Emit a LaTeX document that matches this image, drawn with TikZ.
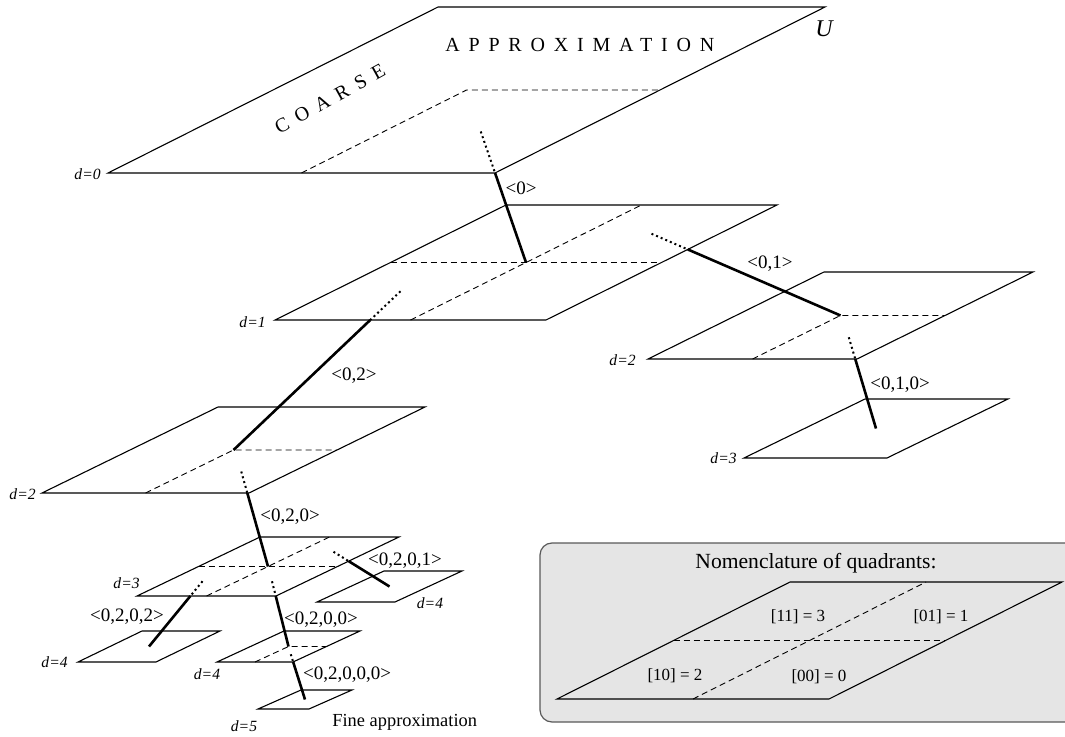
\documentclass[tikz,border=0pt]{standalone}
\usepackage{fontspec}
\setmainfont{Liberation Serif}
\usetikzlibrary{intersections}

\tikzset{
  planeline/.style={line width=0.55pt, line join=miter},
  midline/.style={line width=0.45pt, dash pattern=on 3pt off 2pt},
  hiddenpart/.style={line width=1pt, dash pattern=on 1pt off 1.5pt},
  visiblepart/.style={line width=1.3pt},
  lbl/.style={inner sep=0pt, font=\fontsize{9.5}{11}\selectfont},
  dlbl/.style={inner sep=0pt, font=\fontsize{7.8}{9}\selectfont\itshape},
  qlbl/.style={inner sep=0pt, font=\fontsize{8.5}{10}\selectfont},
  spaced/.style={inner sep=0pt, font=\fontsize{10}{12}\selectfont\addfontfeatures{LetterSpace=44}},
}

% name, x, y, width, height, offset
\newcommand{\defplane}[6]{%
  \coordinate (#1-bl) at (#2,#3);
  \coordinate (#1-br) at ({#2+#4},#3);
  \coordinate (#1-tl) at ({#2+#6},{#3-#5});
  \coordinate (#1-tr) at ({#2+#6+#4},{#3-#5});
  \coordinate (#1-c)  at ({#2+(#6+#4)/2},{#3-#5/2});
  \coordinate (#1-bm) at ({#2+#4/2},#3);
  \coordinate (#1-tm) at ({#2+#6+#4/2},{#3-#5});
  \coordinate (#1-lm) at ({#2+#6/2},{#3-#5/2});
  \coordinate (#1-rm) at ({#2+#4+#6/2},{#3-#5/2});
  \coordinate (#1-q0) at ({#2+0.75*#4+0.25*#6},{#3-0.25*#5});
  \coordinate (#1-q1) at ({#2+0.75*#4+0.75*#6},{#3-0.75*#5});
  \coordinate (#1-q2) at ({#2+0.25*#4+0.25*#6},{#3-0.25*#5});
  \coordinate (#1-q3) at ({#2+0.25*#4+0.75*#6},{#3-0.75*#5});
  \draw[planeline,name path=#1-path] (#1-bl) -- (#1-br) -- (#1-tr) -- (#1-tl) -- cycle;
}
\newcommand{\halfcross}[1]{\draw[midline] (#1-bm) -- (#1-c) -- (#1-rm);}
\newcommand{\fullcross}[1]{\draw[midline] (#1-bm) -- (#1-tm); \draw[midline] (#1-lm) -- (#1-rm);}
% parent, quadrant, child, link name
\newcommand{\qlink}[4]{%
  \path[name path=#4-ln] (#1-#2) -- (#3-c);
  \path[name intersections={of=#1-path and #4-ln, by=#4-x}];
  \draw[hiddenpart] (#1-#2) -- (#4-x);
  \draw[visiblepart] (#4-x) -- (#3-c);
}

\begin{document}
\begin{tikzpicture}[x=0.5pt,y=-0.5pt]
\useasboundingbox (0,0) rectangle (1065,737);
\clip (0,0) rectangle (1065,737);

% legend box
\draw[fill=black!10, draw=black!65, line width=0.6pt, rounded corners=6pt] (540,543) rectangle (1080,722);
\node[inner sep=0pt, font=\fontsize{10.8}{13}\selectfont] (ntitle) at (816,563) {Nomenclature of quadrants:};
\defplane{pn}{557}{699}{272}{117}{233}
\fullcross{pn}
\node[qlbl] (n3) at (798,617) {[11] = 3};
\node[qlbl] (n1) at (941,617) {[01] = 1};
\node[qlbl] (n2) at (675,676) {[10] = 2};
\node[qlbl] (n0) at (819,677) {[00] = 0};

% planes
\defplane{p0}{108}{173}{387}{166}{330}
\halfcross{p0}
\defplane{p1}{275}{320}{271}{115}{231}
\fullcross{p1}
\defplane{p2r}{648}{359}{209}{87}{176}
\halfcross{p2r}
\defplane{p3r}{744}{458}{143}{59}{121}
\defplane{p2l}{42}{493}{207}{86}{176}
\halfcross{p2l}
\defplane{p3l}{137}{596}{139}{59}{123}
\fullcross{p3l}
\defplane{p4l}{78}{662}{78}{31}{64}
\defplane{p4m}{217}{662}{76}{31}{67}
\halfcross{p4m}
\defplane{p4r}{317}{602}{78}{31}{67}
\defplane{p5}{258}{709}{51}{19}{43}

% links
\qlink{p0}{q0}{p1}{l0}
\qlink{p1}{q1}{p2r}{l01}
\qlink{p1}{q2}{p2l}{l02}
\qlink{p2r}{q0}{p3r}{l010}
\qlink{p2l}{q0}{p3l}{l020}
\qlink{p3l}{q1}{p4r}{l0201}
\qlink{p3l}{q2}{p4l}{l0202}
\qlink{p3l}{q0}{p4m}{l0200}
\qlink{p4m}{q0}{p5}{l02000}

% link labels
\node[lbl] (t0) at (521,188) {<0>};
\node[lbl] (t01) at (770,264) {<0,1>};
\node[lbl] (t02) at (354,376) {<0,2>};
\node[lbl] (t010) at (900,385) {<0,1,0>};
\node[lbl] (t020) at (290,517) {<0,2,0>};
\node[lbl] (t0201) at (405,561) {<0,2,0,1>};
\node[lbl] (t0202) at (127,617) {<0,2,0,2>};
\node[lbl] (t0200) at (321,620) {<0,2,0,0>};
\node[lbl] (t02000) at (347,675) {<0,2,0,0,0>};

% depth labels
\node[dlbl, anchor=east] (d0) at (101,174) {d=0};
\node[dlbl, anchor=east] (d1) at (266,322) {d=1};
\node[dlbl, anchor=east] (d2l) at (36,494) {d=2};
\node[dlbl, anchor=east] (d2r) at (636,360) {d=2};
\node[dlbl, anchor=east] (d3r) at (737,458) {d=3};
\node[dlbl, anchor=east] (d3l) at (140,583) {d=3};
\node[dlbl, anchor=east] (d4l) at (68,662) {d=4};
\node[dlbl] (d4m) at (207,674) {d=4};
\node[dlbl] (d4r) at (430,603) {d=4};
\node[dlbl] (d5) at (244,726) {d=5};

% other texts
\node[inner sep=0pt, font=\fontsize{12}{14}\selectfont\itshape] (u) at (824,29) {U};
\node[spaced, anchor=base west] (approx) at (445,52) {APPROXIMATION};
\node[spaced, rotate=29] (coarse) at (330,99) {COARSE};
\node[lbl, anchor=west, font=\fontsize{9.2}{11}\selectfont] (fine) at (332,722) {Fine approximation};
\end{tikzpicture}
\end{document}
